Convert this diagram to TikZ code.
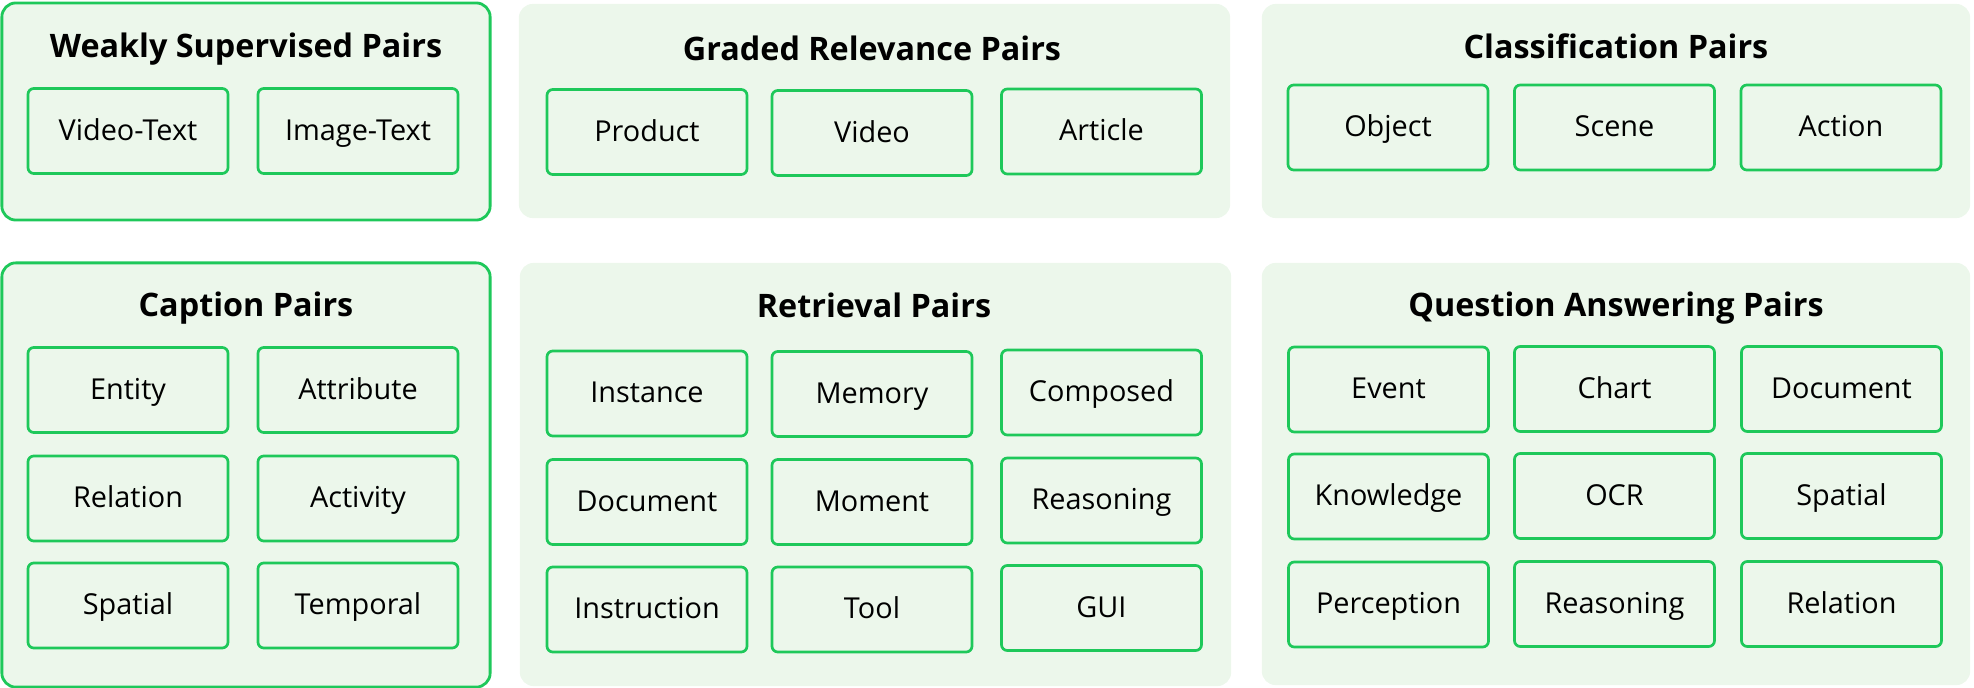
\documentclass[tikz,border=0pt]{standalone}
\usepackage{fontspec}
\setmainfont{Open Sans}
\definecolor{pairgreen}{RGB}{30,200,90}
\definecolor{pairfill}{RGB}{236,247,235}
\tikzset{
  panel/.style={fill=pairfill,rounded corners=0.14cm,inner sep=0pt},
  panelline/.style={panel,draw=pairgreen,line width=0.028cm},
  paneltitle/.style={font=\fontsize{9.2}{11}\selectfont\bfseries,inner sep=0pt,
    text height=0.72em,text depth=0pt},
  item/.style={draw=pairgreen,fill=pairfill,line width=0.027cm,rounded corners=0.06cm,
    minimum width=2cm,minimum height=0.85cm,inner sep=0pt,font=\fontsize{8.2}{9}\selectfont,
    text height=0.72em,text depth=0.2em}
}
\begin{document}
\begin{tikzpicture}[x=0.01cm,y=-0.01cm]
\useasboundingbox (0,0) rectangle (1974,688);
% panels
\node (weakpanel) at (246,111.5) [panelline,minimum width=4.88cm,minimum height=2.17cm] {};
\node (gradedpanel) at (874.5,111) [panel,minimum width=7.11cm,minimum height=2.14cm] {};
\node (classpanel) at (1616,111) [panel,minimum width=7.08cm,minimum height=2.14cm] {};
\node (captionpanel) at (246,475) [panelline,minimum width=4.88cm,minimum height=4.24cm] {};
\node (retrievalpanel) at (875.5,474.5) [panel,minimum width=7.11cm,minimum height=4.23cm] {};
\node (qapanel) at (1616,474) [panel,minimum width=7.08cm,minimum height=4.22cm] {};
% titles
\node (weaktitle) at (246,45) [paneltitle] {Weakly Supervised Pairs};
\node (gradedtitle) at (872,47.5) [paneltitle] {Graded Relevance Pairs};
\node (classtitle) at (1616,46) [paneltitle] {Classification Pairs};
\node (captiontitle) at (246,304) [paneltitle] {Caption Pairs};
\node (retrievaltitle) at (874,304.5) [paneltitle] {Retrieval Pairs};
\node (qatitle) at (1616,304) [paneltitle] {Question Answering Pairs};
% weakly supervised
\node (videotext) at (128,131) [item] {Video-Text};
\node (imagetext) at (358,131) [item] {Image-Text};
% graded relevance
\node (product) at (647,132) [item] {Product};
\node (video) at (872,133) [item] {Video};
\node (article) at (1101.5,131.5) [item] {Article};
% classification
\node (object) at (1388,127.5) [item] {Object};
\node (scene) at (1614.5,127.5) [item] {Scene};
\node (action) at (1841,127.5) [item] {Action};
% caption
\node (entity) at (128,390) [item] {Entity};
\node (attribute) at (358,390) [item] {Attribute};
\node (caprelation) at (128,498.5) [item] {Relation};
\node (activity) at (358,498.5) [item] {Activity};
\node (capspatial) at (128,605.5) [item] {Spatial};
\node (temporal) at (358,605.5) [item] {Temporal};
% retrieval
\node (instance) at (647,393.5) [item] {Instance};
\node (memory) at (872,394) [item] {Memory};
\node (composed) at (1101.5,392.5) [item] {Composed};
\node (retdocument) at (647,502) [item] {Document};
\node (moment) at (872,502) [item] {Moment};
\node (retreasoning) at (1101.5,500.5) [item] {Reasoning};
\node (instruction) at (647,609.5) [item] {Instruction};
\node (tool) at (872,609.5) [item] {Tool};
\node (gui) at (1101.5,608) [item] {GUI};
% question answering
\node (event) at (1388.5,389.5) [item] {Event};
\node (chart) at (1614.5,389) [item] {Chart};
\node (qadocument) at (1841.5,389) [item] {Document};
\node (knowledge) at (1388.5,496.5) [item] {Knowledge};
\node (ocr) at (1614.5,496) [item] {OCR};
\node (qaspatial) at (1841.5,496) [item] {Spatial};
\node (perception) at (1388.5,604.5) [item] {Perception};
\node (qareasoning) at (1614.5,604) [item] {Reasoning};
\node (qarelation) at (1841.5,604) [item] {Relation};
\end{tikzpicture}
\end{document}
